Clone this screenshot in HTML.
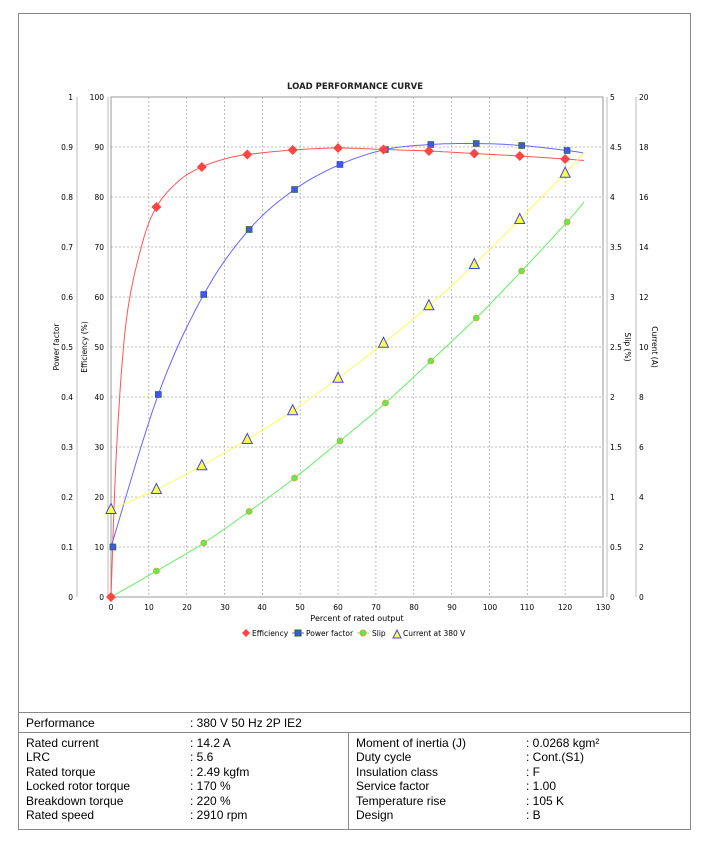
<!DOCTYPE html>
<html><head><meta charset="utf-8"><style>
body{margin:0;background:#fff;width:710px;height:850px;position:relative;font-family:"Liberation Sans",sans-serif;overflow:hidden}
#frame{position:absolute;left:18px;top:13px;width:673px;height:817px;border:1px solid #888;box-sizing:border-box}
svg{position:absolute;left:0;top:0}
.t{position:absolute;font-size:12px;color:#000;white-space:nowrap}
.hl{position:absolute;left:18px;width:673px;height:1px;background:#888}
</style></head><body>
<div id="frame"></div>
<svg id="s" width="710" height="712" font-family="DejaVu Sans, sans-serif" font-size="7.5">
<text x="355" y="89" text-anchor="middle" font-size="8.5" font-weight="bold" fill="#222" stroke="none" style="font-weight:600">LOAD PERFORMANCE CURVE</text>
<g id="grid"></g>
<rect x="111" y="97" width="492" height="500" fill="none" stroke="#999" stroke-width="1"/>
<line x1="77" y1="97" x2="77" y2="597" stroke="#bbb"/>
<line x1="108" y1="97" x2="108" y2="597" stroke="#bbb"/>
<line x1="607" y1="97" x2="607" y2="597" stroke="#bbb"/>
<line x1="636" y1="97" x2="636" y2="597" stroke="#bbb"/>
<g text-anchor="end">
<text x="73" y="100">1</text><text x="73" y="150">0.9</text><text x="73" y="200">0.8</text><text x="73" y="250">0.7</text><text x="73" y="300">0.6</text><text x="73" y="350">0.5</text><text x="73" y="400">0.4</text><text x="73" y="450">0.3</text><text x="73" y="500">0.2</text><text x="73" y="550">0.1</text><text x="73" y="600">0</text>
<text x="104" y="100">100</text><text x="104" y="150">90</text><text x="104" y="200">80</text><text x="104" y="250">70</text><text x="104" y="300">60</text><text x="104" y="350">50</text><text x="104" y="400">40</text><text x="104" y="450">30</text><text x="104" y="500">20</text><text x="104" y="550">10</text><text x="104" y="600">0</text>
</g>
<g>
<text x="610" y="100">5</text><text x="610" y="150">4.5</text><text x="610" y="200">4</text><text x="610" y="250">3.5</text><text x="610" y="300">3</text><text x="610" y="350">2.5</text><text x="610" y="400">2</text><text x="610" y="450">1.5</text><text x="610" y="500">1</text><text x="610" y="550">0.5</text><text x="610" y="600">0</text>
<text x="639" y="100">20</text><text x="639" y="150">18</text><text x="639" y="200">16</text><text x="639" y="250">14</text><text x="639" y="300">12</text><text x="639" y="350">10</text><text x="639" y="400">8</text><text x="639" y="450">6</text><text x="639" y="500">4</text><text x="639" y="550">2</text><text x="639" y="600">0</text>
</g>
<g text-anchor="middle">
<text x="111" y="610">0</text><text x="149" y="610">10</text><text x="187" y="610">20</text><text x="225" y="610">30</text><text x="262" y="610">40</text><text x="300" y="610">50</text><text x="338" y="610">60</text><text x="376" y="610">70</text><text x="414" y="610">80</text><text x="452" y="610">90</text><text x="490" y="610">100</text><text x="527" y="610">110</text><text x="565" y="610">120</text><text x="603" y="610">130</text>
<text x="357" y="621" font-size="8">Percent of rated output</text>
</g>
<text transform="translate(59,347) rotate(-90)" text-anchor="middle">Power factor</text>
<text transform="translate(87,347) rotate(-90)" text-anchor="middle">Efficiency (%)</text>
<text transform="translate(625,347) rotate(90)" text-anchor="middle">Slip (%)</text>
<text transform="translate(652,347) rotate(90)" text-anchor="middle">Current (A)</text>
<g id="series"></g>
<g font-size="7.5">
<path d="M246,629 l4,4 -4,4 -4,-4z" fill="#f44"/><text x="252" y="636">Efficiency</text>
<line x1="292" y1="633" x2="304" y2="633" stroke="#66f"/><rect x="295" y="630" width="6" height="6" fill="#45e" stroke="#262"/><text x="306" y="636">Power factor</text>
<line x1="357" y1="633" x2="369" y2="633" stroke="#6e6"/><circle cx="363" cy="633" r="3" fill="#5e5" stroke="#e93"/><text x="372" y="636">Slip</text>
<path d="M393,638 l4,-8 4,8z" fill="#ff4" stroke="#44e"/><text x="403" y="636">Current at 380 V</text>
</g>
</svg>
<div class="hl" style="top:712px"></div>
<div class="hl" style="top:732px"></div>
<div style="position:absolute;left:348px;top:732px;width:1px;height:98px;background:#888"></div>
<div class="t" style="left:26px;top:716px">Performance</div><div class="t" style="left:190px;top:716px">: 380 V 50 Hz 2P IE2</div>
<div class="t" style="left:26px;top:736px;line-height:14.4px">Rated current<br>LRC<br>Rated torque<br>Locked rotor torque<br>Breakdown torque<br>Rated speed</div>
<div class="t" style="left:190px;top:736px;line-height:14.4px">: 14.2 A<br>: 5.6<br>: 2.49 kgfm<br>: 170 %<br>: 220 %<br>: 2910 rpm</div>
<div class="t" style="left:356px;top:736px;line-height:14.4px">Moment of inertia (J)<br>Duty cycle<br>Insulation class<br>Service factor<br>Temperature rise<br>Design</div>
<div class="t" style="left:526px;top:736px;line-height:14.4px">: 0.0268 kgm²<br>: Cont.(S1)<br>: F<br>: 1.00<br>: 105 K<br>: B</div>
<script>
var NS="http://www.w3.org/2000/svg";
function el(p,t,a){var e=document.createElementNS(NS,t);for(var k in a)e.setAttribute(k,a[k]);p.appendChild(e);return e;}
var g=document.getElementById('grid');
for(var i=1;i<13;i++){var x=111+i*37.846;el(g,'line',{x1:x,y1:97,x2:x,y2:597,stroke:'#aaa','stroke-dasharray':'2,2','stroke-width':0.8});}
for(var j=1;j<10;j++){var y=97+j*50;el(g,'line',{x1:111,y1:y,x2:603,y2:y,stroke:'#aaa','stroke-dasharray':'2,2','stroke-width':0.8});}
function X(p){return 111+p*3.7846;}
var s=document.getElementById('series');
function curve(pts,f,col){var d='';for(var i=0;i<pts.length;i++){d+=(i?'L':'M')+X(pts[i][0]).toFixed(1)+','+f(pts[i][1]).toFixed(1);}el(s,'path',{d:d,fill:'none',stroke:col,'stroke-width':1});}
function interp(pts){var o=[];for(var i=0;i<pts.length-1;i++){var a=pts[Math.max(0,i-1)],b=pts[i],c=pts[i+1],d=pts[Math.min(pts.length-1,i+2)];for(var t=0;t<1;t+=0.1){var t2=t*t,t3=t2*t;function h(k){return 0.5*((2*b[k])+(-a[k]+c[k])*t+(2*a[k]-5*b[k]+4*c[k]-d[k])*t2+(-a[k]+3*b[k]-3*c[k]+d[k])*t3);}o.push([h(0),h(1)]);}}o.push(pts[pts.length-1]);return o;}
var eff=[[0,0],[12,78],[24,86],[36,88.5],[48,89.4],[60,89.8],[72,89.5],[84,89.2],[96,88.7],[108,88.2],[120,87.6]];
var effC=[[0,0],[1.5,30],[4,55],[8,70],[12,78],[18,83.3],[24,86],[30,87.6],[36,88.5],[48,89.4],[60,89.8],[72,89.5],[84,89.2],[96,88.7],[108,88.2],[120,87.6],[125,87.3]];
var pf=[[0.5,0.1],[12.5,0.405],[24.5,0.605],[36.5,0.735],[48.5,0.815],[60.5,0.865],[72.5,0.895],[84.5,0.905],[96.5,0.907],[108.5,0.903],[120.5,0.893]];
var pfC=[[0,0.1]].concat(pf.slice(1)).concat([[125,0.888]]);
var sl=[[0,0],[12,0.26],[24.5,0.54],[36.5,0.855],[48.5,1.19],[60.5,1.56],[72.5,1.94],[84.5,2.36],[96.5,2.79],[108.5,3.26],[120.5,3.75]];
var cu=[[0,3.5],[12,4.3],[24,5.25],[36,6.3],[48,7.45],[60,8.75],[72,10.15],[84,11.65],[96,13.3],[108,15.1],[120,16.95]];
var fE=function(v){return 597-v*5},fP=function(v){return 597-v*500},fS=function(v){return 597-v*100},fC=function(v){return 597-v*25};
curve(interp(effC),fE,'#f55');
curve(interp(pfC),fP,'#66f');
curve(interp(sl.concat([[125,3.95]])),fS,'#6e6');
curve(interp(cu.concat([[125,17.8]])),fC,'#ff5');
sl.forEach(function(p){el(s,'circle',{cx:X(p[0]),cy:fS(p[1]),r:3,fill:'#5e5',stroke:'#e93','stroke-width':0.8});});
cu.forEach(function(p){var x=X(p[0]),y=fC(p[1]);el(s,'path',{d:'M'+(x-5)+','+(y+4)+'L'+x+','+(y-6)+'L'+(x+5)+','+(y+4)+'Z',fill:'#ff4',stroke:'#44e','stroke-width':1});});
pf.forEach(function(p){var x=X(p[0]),y=fP(p[1]);el(s,'rect',{x:x-3,y:y-3,width:6,height:6,fill:'#45e',stroke:'#262','stroke-width':0.6});});
eff.forEach(function(p){var x=X(p[0]),y=fE(p[1]);el(s,'path',{d:'M'+x+','+(y-5)+'l5,5 -5,5 -5,-5z',fill:'#f44'});});
</script>
</body></html>
